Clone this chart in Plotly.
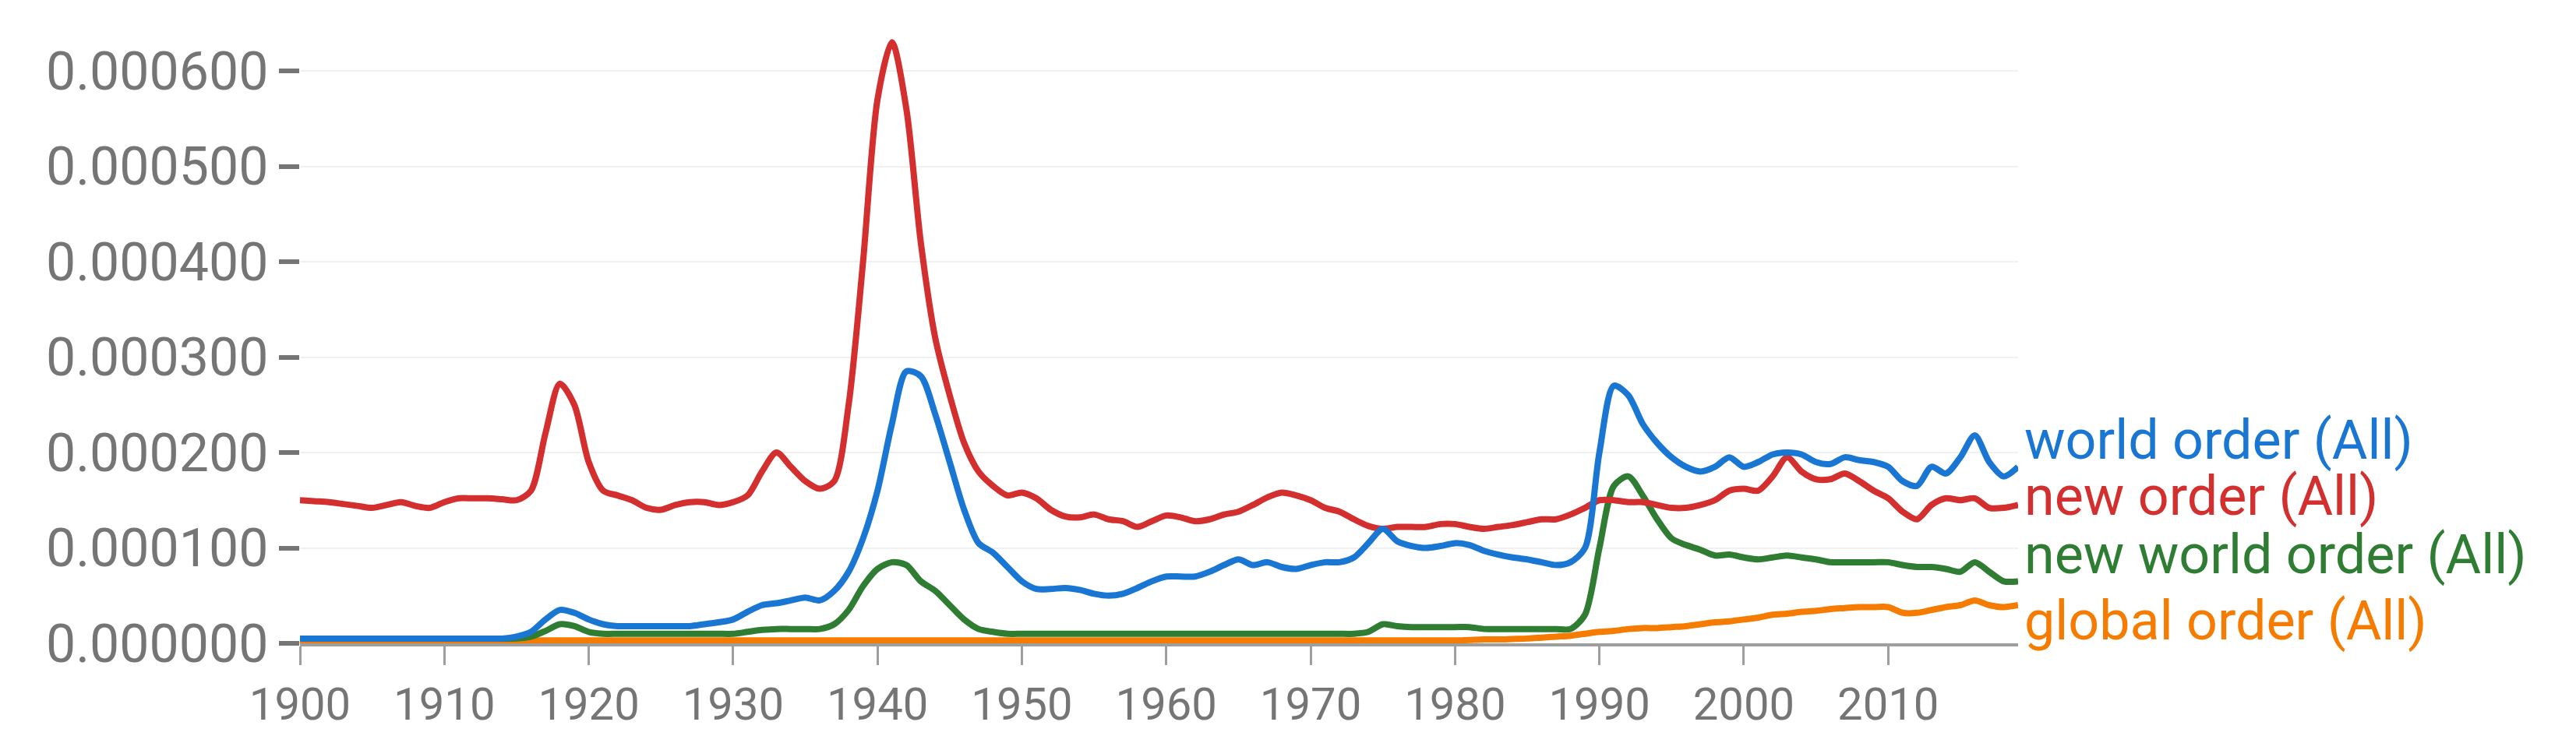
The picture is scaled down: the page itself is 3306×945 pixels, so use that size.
import plotly.graph_objects as go

# ── Data (percent, read in units of 1e-4 %) ──────────────────────────────────
years = list(range(1900, 2020))
scale = 1e-4

new_order = [
    1.50, 1.49, 1.48, 1.46, 1.44, 1.42, 1.45, 1.48, 1.44, 1.42,
    1.48, 1.52, 1.52, 1.52, 1.51, 1.50, 1.60, 2.20, 2.72, 2.50,
    1.90, 1.60, 1.55, 1.50, 1.42, 1.40, 1.45, 1.48, 1.48, 1.45,
    1.48, 1.55, 1.80, 2.00, 1.85, 1.70, 1.62, 1.70, 2.50, 4.00,
    5.70, 6.30, 5.60, 4.20, 3.20, 2.60, 2.10, 1.80, 1.65, 1.55,
    1.58, 1.52, 1.40, 1.33, 1.32, 1.35, 1.30, 1.28, 1.22, 1.28,
    1.34, 1.32, 1.28, 1.30, 1.35, 1.38, 1.45, 1.53, 1.58, 1.55,
    1.50, 1.42, 1.38, 1.30, 1.23, 1.20, 1.22, 1.22, 1.22, 1.25,
    1.25, 1.22, 1.20, 1.22, 1.24, 1.27, 1.30, 1.30, 1.35, 1.42,
    1.50, 1.50, 1.48, 1.48, 1.45, 1.42, 1.42, 1.45, 1.50, 1.60,
    1.62, 1.60, 1.75, 1.95, 1.80, 1.72, 1.72, 1.78, 1.70, 1.60,
    1.52, 1.38, 1.30, 1.45, 1.52, 1.50, 1.52, 1.42, 1.42, 1.45,
]
world_order = [
    0.05, 0.05, 0.05, 0.05, 0.05, 0.05, 0.05, 0.05, 0.05, 0.05,
    0.05, 0.05, 0.05, 0.05, 0.05, 0.07, 0.12, 0.25, 0.35, 0.32,
    0.25, 0.20, 0.18, 0.18, 0.18, 0.18, 0.18, 0.18, 0.20, 0.22,
    0.25, 0.33, 0.40, 0.42, 0.45, 0.48, 0.45, 0.55, 0.75, 1.10,
    1.60, 2.30, 2.85, 2.80, 2.40, 1.90, 1.40, 1.05, 0.95, 0.80,
    0.65, 0.57, 0.57, 0.58, 0.56, 0.52, 0.50, 0.52, 0.58, 0.65,
    0.70, 0.70, 0.70, 0.75, 0.82, 0.88, 0.82, 0.85, 0.80, 0.78,
    0.82, 0.85, 0.85, 0.90, 1.05, 1.20, 1.07, 1.02, 1.00, 1.02,
    1.05, 1.03, 0.97, 0.93, 0.90, 0.88, 0.85, 0.82, 0.85, 1.00,
    2.00, 2.70, 2.60, 2.30, 2.10, 1.95, 1.85, 1.80, 1.85, 1.95,
    1.85, 1.90, 1.98, 2.00, 1.98, 1.90, 1.88, 1.95, 1.92, 1.90,
    1.85, 1.70, 1.65, 1.85, 1.78, 1.95, 2.18, 1.90, 1.75, 1.85,
]
new_world_order = [
    0.05, 0.05, 0.05, 0.05, 0.05, 0.05, 0.05, 0.05, 0.05, 0.05,
    0.05, 0.05, 0.05, 0.05, 0.05, 0.05, 0.07, 0.13, 0.20, 0.18,
    0.12, 0.10, 0.10, 0.10, 0.10, 0.10, 0.10, 0.10, 0.10, 0.10,
    0.10, 0.12, 0.14, 0.15, 0.15, 0.15, 0.15, 0.20, 0.35, 0.60,
    0.78, 0.85, 0.82, 0.65, 0.55, 0.40, 0.25, 0.15, 0.12, 0.10,
    0.10, 0.10, 0.10, 0.10, 0.10, 0.10, 0.10, 0.10, 0.10, 0.10,
    0.10, 0.10, 0.10, 0.10, 0.10, 0.10, 0.10, 0.10, 0.10, 0.10,
    0.10, 0.10, 0.10, 0.10, 0.12, 0.20, 0.18, 0.17, 0.17, 0.17,
    0.17, 0.17, 0.15, 0.15, 0.15, 0.15, 0.15, 0.15, 0.15, 0.30,
    1.00, 1.65, 1.75, 1.55, 1.30, 1.10, 1.03, 0.98, 0.92, 0.93,
    0.90, 0.88, 0.90, 0.92, 0.90, 0.88, 0.85, 0.85, 0.85, 0.85,
    0.85, 0.82, 0.80, 0.80, 0.78, 0.75, 0.85, 0.75, 0.65, 0.65,
]
global_order = [
    0.03, 0.03, 0.03, 0.03, 0.03, 0.03, 0.03, 0.03, 0.03, 0.03,
    0.03, 0.03, 0.03, 0.03, 0.03, 0.03, 0.03, 0.03, 0.03, 0.03,
    0.03, 0.03, 0.03, 0.03, 0.03, 0.03, 0.03, 0.03, 0.03, 0.03,
    0.03, 0.03, 0.03, 0.03, 0.03, 0.03, 0.03, 0.03, 0.03, 0.03,
    0.03, 0.03, 0.03, 0.03, 0.03, 0.03, 0.03, 0.03, 0.03, 0.03,
    0.03, 0.03, 0.03, 0.03, 0.03, 0.03, 0.03, 0.03, 0.03, 0.03,
    0.03, 0.03, 0.03, 0.03, 0.03, 0.03, 0.03, 0.03, 0.03, 0.03,
    0.03, 0.03, 0.03, 0.03, 0.03, 0.03, 0.03, 0.03, 0.03, 0.03,
    0.03, 0.035, 0.04, 0.04, 0.045, 0.05, 0.06, 0.07, 0.08, 0.10,
    0.12, 0.13, 0.15, 0.16, 0.16, 0.17, 0.18, 0.20, 0.22, 0.23,
    0.25, 0.27, 0.30, 0.31, 0.33, 0.34, 0.36, 0.37, 0.38, 0.38,
    0.38, 0.32, 0.32, 0.35, 0.38, 0.40, 0.45, 0.40, 0.38, 0.40,
]

series = [
    ('world order (All)', world_order, '#1976d2', 2.13),
    ('new order (All)', new_order, '#d32f2f', 1.54),
    ('new world order (All)', new_world_order, '#2e7d32', 0.93),
    ('global order (All)', global_order, '#f57c00', 0.24),
]
y_ticks = [0, 1, 2, 3, 4, 5, 6]

fig = go.Figure()
for name, vals, color, label_y in series[::-1]:
    fig.add_trace(go.Scatter(
        x=years, y=[v * scale for v in vals], name=name, mode='lines',
        line=dict(color=color, width=8, shape='spline', smoothing=0.8),
    ))
    fig.add_annotation(
        x=1, xref='paper', y=label_y * scale, yref='y', text=name,
        showarrow=False, xanchor='left', xshift=6,
        font=dict(family='Roboto', size=70, color=color),
    )

fig.update_layout(
    width=3306, height=945,
    margin=dict(l=377, r=724, t=34, b=127),
    plot_bgcolor='white', paper_bgcolor='white',
    showlegend=False,
    font=dict(family='Roboto', size=58, color='#757575'),
)
fig.update_xaxes(
    range=[1900, 2019], tick0=1900, dtick=10,
    showgrid=False, showline=True, linecolor='#9e9e9e', linewidth=4,
    ticks='outside', ticklen=24, tickwidth=3, tickcolor='#9e9e9e',
    tickfont=dict(size=58),
)
fig.update_yaxes(
    range=[0, 6.4e-4], tickvals=[t * scale for t in y_ticks],
    tickformat='.6f', ticksuffix='%',
    showgrid=True, gridcolor='#f0f0f0', gridwidth=2, zeroline=False,
    ticks='outside', ticklen=26, tickwidth=6, tickcolor='#757575',
    tickfont=dict(size=68),
)

fig.write_html("out.html")
